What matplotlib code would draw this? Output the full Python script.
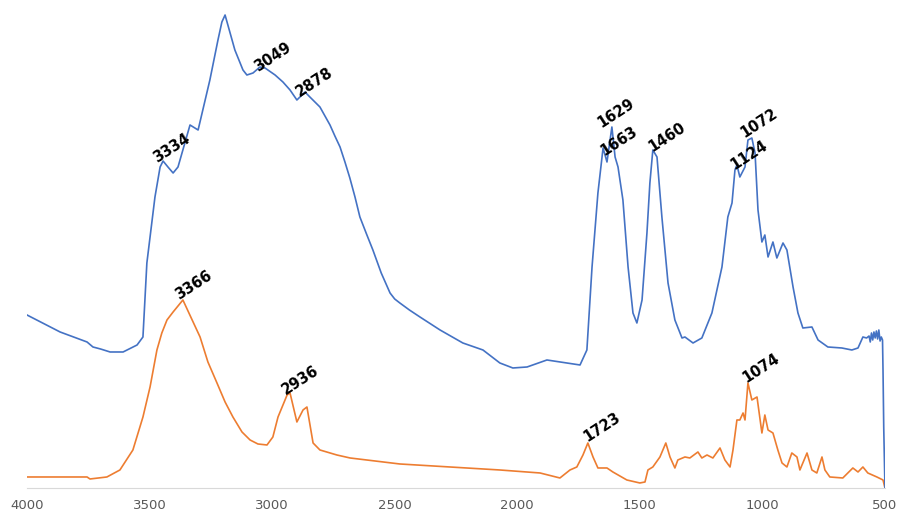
# Espectros FTIR - dos muestras (azul y naranja)
import numpy as np
import matplotlib.pyplot as plt

# datos (numero de onda cm-1, intensidad en unidades arbitrarias)
blue_wn = [4000, 3865, 3755, 3731, 3700, 3661, 3608, 3551, 3527, 3511, 3478, 3457, 3445, 3425,
           3404, 3384, 3364, 3335, 3302, 3254, 3221, 3205, 3192, 3175, 3152, 3119, 3103, 3078,
           3050, 3029, 2988, 2956, 2927, 2899, 2878, 2866, 2846, 2805, 2764, 2744, 2723, 2703,
           2683, 2662, 2642, 2615, 2589, 2555, 2519, 2500, 2479, 2440, 2397, 2315, 2222, 2140,
           2071, 2018, 1960, 1879, 1797, 1744, 1716, 1695, 1671, 1650, 1634, 1614, 1601, 1589,
           1569, 1548, 1528, 1512, 1491, 1471, 1459, 1447, 1430, 1410, 1385, 1357, 1328, 1316,
           1283, 1247, 1206, 1165, 1141, 1124, 1112, 1104, 1092, 1071, 1059, 1043, 1030, 1018,
           1002, 990, 977, 957, 941, 916, 900, 875, 855, 835, 798, 773, 733, 676, 635, 610,
           590, 575, 565, 560, 555, 550, 545, 540, 535, 530, 525, 520, 515, 510, 508, 505, 500]
blue_abs = [173, 156, 146, 141, 139, 136, 136, 143, 151, 225, 291, 321, 327, 321,
            315, 321, 338, 363, 358, 408, 448, 466, 473, 458, 438, 418, 413, 415,
            421, 420, 413, 406, 398, 388, 393, 396, 391, 381, 363, 352, 341, 326,
            310, 291, 271, 254, 238, 215, 195, 189, 185, 178, 171, 158, 145, 138,
            125, 120, 121, 128, 125, 123, 138, 221, 295, 340, 326, 361, 331, 321,
            288, 221, 175, 165, 188, 255, 305, 338, 331, 271, 205, 168, 150, 151,
            145, 150, 175, 221, 271, 285, 318, 323, 311, 321, 348, 350, 335, 278,
            246, 253, 231, 246, 230, 245, 238, 201, 175, 160, 161, 148, 141, 140, 138, 140,
            151, 150, 152, 146, 155, 148, 156, 150, 157, 149, 158, 147, 151, 148, 118, 60, 0]

orange_wn = [4000, 3755, 3743, 3674, 3621, 3568, 3527, 3498, 3470, 3450, 3429, 3404, 3364,
             3330, 3294, 3262, 3225, 3192, 3160, 3123, 3090, 3058, 3021, 2997, 2976, 2939,
             2927, 2899, 2874, 2858, 2833, 2805, 2736, 2682, 2479, 2275, 2071, 1907, 1826,
             1785, 1757, 1732, 1712, 1691, 1671, 1634, 1610, 1553, 1500, 1479, 1467, 1447,
             1418, 1394, 1377, 1357, 1345, 1316, 1296, 1263, 1247, 1226, 1202, 1173, 1153,
             1132, 1120, 1104, 1092, 1079, 1071, 1059, 1043, 1022, 1002, 990, 977, 957, 937,
             920, 900, 880, 859, 847, 818, 798, 778, 757, 745, 725, 672, 631, 610, 590, 570,
             533, 508, 500]
orange_abs = [11, 11, 9, 11, 18, 38, 71, 101, 138, 155, 168, 176, 188,
              170, 151, 126, 105, 86, 71, 56, 48, 44, 43, 51, 71, 93,
              95, 66, 78, 81, 45, 38, 33, 30, 24, 21, 18, 15, 10,
              18, 21, 33, 45, 31, 20, 20, 16, 8, 5, 6, 18, 21,
              31, 45, 31, 20, 28, 31, 30, 36, 30, 33, 30, 40, 28,
              21, 38, 68, 68, 75, 68, 105, 88, 91, 55, 73, 58, 55, 38,
              25, 21, 35, 31, 18, 35, 18, 15, 31, 18, 11, 10, 20, 16, 21, 15,
              11, 8, 0]

# etiquetas de picos y donde se escriben
blue_labels = ['3334', '3049', '2878', '1663', '1629', '1460', '1124', '1072']
blue_label_pos = [(3470, 325), (3058, 416), (2886, 391), (1646, 332), (1659, 360),
                  (1451, 336), (1116, 318), (1075, 350)]
orange_labels = ['3366', '2936', '1723', '1074']
orange_label_pos = [(3380, 188), (2944, 93), (1716, 46), (1067, 105)]

fig = plt.figure(figsize=(9, 5.16), dpi=100)
ax = fig.add_axes([0.03, 0.0543, 0.9533, 0.9457])

ax.plot(orange_wn, orange_abs, color='#ED7D31', lw=1.2)
ax.plot(blue_wn, blue_abs, color='#4472C4', lw=1.2)

for txt, (x, y) in zip(blue_labels + orange_labels, blue_label_pos + orange_label_pos):
    ax.text(x, y, txt, rotation=33, rotation_mode='anchor', ha='left', va='baseline',
            fontsize=10.5, fontweight='bold', color='black')

ax.set_xlim(4000, 500)
ax.set_ylim(0, 488)
ax.set_xticks(np.arange(4000, 499, -500))
ax.set_yticks([])
for s in ['top', 'right', 'left']:
    ax.spines[s].set_visible(False)
ax.spines['bottom'].set_color('#d9d9d9')
ax.tick_params(axis='x', length=0, pad=8, labelsize=9.5, labelcolor='#595959')
ax.patch.set_alpha(0)

plt.savefig('out.png', dpi=100)
